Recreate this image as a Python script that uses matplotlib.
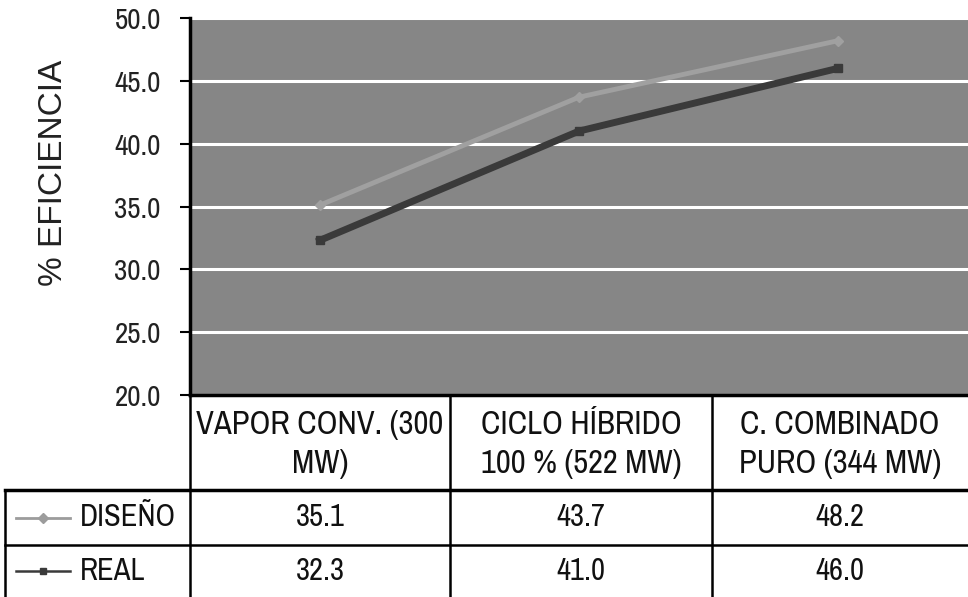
import matplotlib
matplotlib.use("Agg")
import matplotlib.pyplot as plt
from matplotlib.lines import Line2D

narrow = ["Archivo Narrow", "Liberation Sans", "DejaVu Sans"]
plt.rcParams["font.family"] = narrow

# Data
categories = ["VAPOR CONV. (300\nMW)", "CICLO HÍBRIDO\n100 % (522 MW)", "C. COMBINADO\nPURO (344 MW)"]
diseno = [35.1, 43.7, 48.2]
real = [32.3, 41.0, 46.0]
series_names = ["DISEÑO", "REAL"]
yticks = [20, 25, 30, 35, 40, 45, 50]

W, H = 968, 597
fig = plt.figure(figsize=(W / 100, H / 100), dpi=100)

# plot area in pixel units
left, right, top, bottom = 190, 968, 18, 395
ax = fig.add_axes([left / W, 1 - bottom / H, (right - left) / W, (bottom - top) / H])
ax.set_facecolor("#868686")

x = list(range(len(categories)))
ax.plot(x, diseno, color="#a0a0a0", lw=3.5, marker="D", ms=5, mec="#a0a0a0", zorder=3)
ax.plot(x, real, color="#3a3a3a", lw=5, marker="s", ms=6, zorder=4)

ax.set_xlim(-0.5, len(categories) - 0.5)
ax.set_ylim(20, 50)
ax.set_yticks(yticks)
ax.set_yticklabels([f"{v:.1f}" for v in yticks], fontsize=21, color="#222222")
ax.set_xticks([])
ax.yaxis.grid(True, color="white", lw=2.2)
ax.set_axisbelow(True)
for s in ["top", "right", "bottom"]:
    ax.spines[s].set_visible(False)
ax.spines["left"].set_linewidth(2.5)
ax.spines["left"].set_color("black")
ax.tick_params(axis="y", length=7, width=1.5, direction="out", pad=14)
ax.set_ylabel("% EFICIENCIA", fontsize=24, color="#222222",
              family=["Liberation Sans", "DejaVu Sans"])
ax.yaxis.set_label_coords(-0.156, 0.59)

# data table below the plot
col_edges = [left, 450, 712, right]
row_edges = [bottom, 490, 545, H]
lab_left = 5


def fx(px):
    return px / W


def fy(py):
    return 1 - py / H


def hline(x0, x1, y, lw=1.8):
    fig.add_artist(Line2D([fx(x0), fx(x1)], [fy(y), fy(y)], color="black", lw=lw))


def vline(xp, y0, y1, lw=1.8):
    fig.add_artist(Line2D([fx(xp), fx(xp)], [fy(y0), fy(y1)], color="black", lw=lw))


for xe in col_edges[:-1]:
    vline(xe, row_edges[0], row_edges[-1])
vline(lab_left, row_edges[1], row_edges[-1])
hline(lab_left, right, row_edges[1], lw=2.5)
hline(lab_left, right, row_edges[2])
hline(left, right, row_edges[0], lw=2.5)

for i, cat in enumerate(categories):
    cx = (col_edges[i] + col_edges[i + 1]) / 2
    cy = (row_edges[0] + row_edges[1]) / 2 + 2
    fig.text(fx(cx), fy(cy), cat, ha="center", va="center", fontsize=23.5,
             color="#111111", linespacing=1.35)

styles = [("#9c9c9c", "D", 2.0), ("#3a3a3a", "s", 1.8)]
for r, (name, vals) in enumerate(zip(series_names, [diseno, real])):
    cy = (row_edges[r + 1] + row_edges[r + 2]) / 2
    col, mk, lw = styles[r]
    fig.add_artist(Line2D([fx(16), fx(70)], [fy(cy), fy(cy)], color=col, lw=lw))
    fig.add_artist(Line2D([fx(43)], [fy(cy)], color=col, marker=mk, ms=5, lw=0))
    fig.text(fx(80), fy(cy), name, ha="left", va="center", fontsize=22, color="#111111")
    for i, v in enumerate(vals):
        cx = (col_edges[i] + col_edges[i + 1]) / 2
        fig.text(fx(cx), fy(cy), f"{v:.1f}", ha="center", va="center", fontsize=22,
                 color="#111111")

fig.savefig("out.png", dpi=100)
